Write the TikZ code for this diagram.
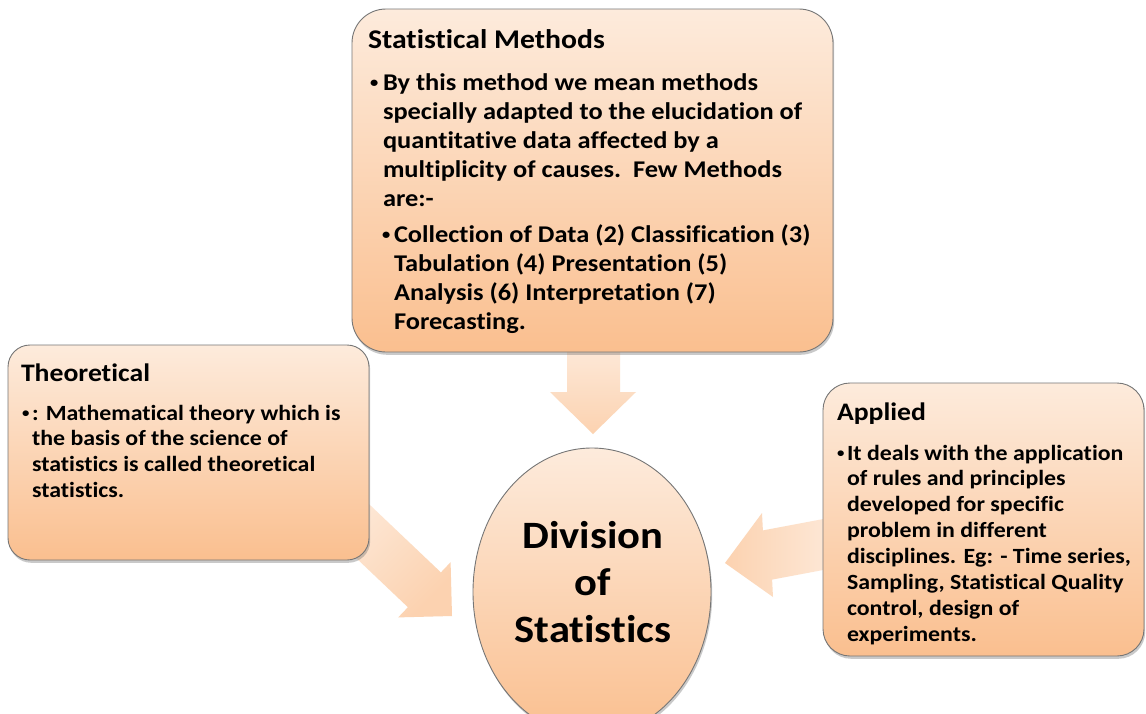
\documentclass[tikz,border=0pt]{standalone}
\usepackage{fontspec}
\setmainfont{Carlito}[FakeStretch=1.1, Ligatures=NoCommon]
\usetikzlibrary{shapes.geometric,shadows}
\definecolor{boxtop}{RGB}{253,235,220}
\definecolor{boxbot}{RGB}{250,191,143}
\definecolor{arrlight}{RGB}{253,236,222}
\definecolor{arrdark}{RGB}{252,210,176}
\definecolor{edge}{RGB}{118,118,118}
\newcommand\smtitle{\fontsize{27}{33}\selectfont\bfseries}
\newcommand\smbody{\fontsize{24}{29}\selectfont\bfseries}
\newcommand\smbul{\fontsize{15}{15}\selectfont\bfseries}
\newcommand\sidetitle{\fontsize{25.2}{30}\selectfont\bfseries}
\newcommand\sidebody{\fontsize{21.7}{26}\selectfont\bfseries}
\newcommand\sidebul{\fontsize{13.5}{14}\selectfont\bfseries}
\newcommand\divfont{\fontsize{38.7}{47}\selectfont\bfseries}
\tikzset{
  box/.style={draw=edge, line width=0.9pt, top color=boxtop, bottom color=boxbot,
    drop shadow={shadow xshift=1.2pt, shadow yshift=-2.8pt, opacity=0.35, fill=black!60},
    inner sep=0pt, outer sep=0pt},
  tx/.style={anchor=base west, inner sep=0pt, outer sep=0pt, text=black},
  ctx/.style={anchor=base, inner sep=0pt, outer sep=0pt, text=black},
  blockarrow/.style={draw=none}
}
\begin{document}
\begin{tikzpicture}[x=1pt,y=-1pt]
\fill[white] (0,0) rectangle (1146,713);
\clip (0,0) rectangle (1146,713);
% tips of the block arrows
\coordinate (dTip) at (593,434);
\coordinate (lTip) at (452,616);
\coordinate (rTip) at (725,563);
% down arrow (Statistical Methods -> Division)
\path[blockarrow, top color=arrlight, bottom color=arrdark]
  (567,335) -- (620,335) -- (620,392) -- (636,392) -- (dTip) -- (550,392) -- (567,392) -- cycle;
% left arrow (Theoretical -> Division)
\path[blockarrow, top color=arrlight, bottom color=arrdark, shading angle=45]
  (345.2,481.5) -- (440.9,572.4) -- (450.6,562.2) -- (lTip) -- (398.2,617.4) -- (407.9,607.2) -- (312.2,516.3) -- cycle;
% right arrow (Applied -> Division)
\path[blockarrow, top color=arrlight, bottom color=arrdark, shading angle=-90]
  (841.5,515.6) -- (762.9,530.4) -- (762,513) -- (rTip) -- (773,597) -- (772.1,579.6) -- (850.7,564.8) -- cycle;
% boxes
\node[box, rounded corners=34pt, minimum width=481pt, minimum height=343pt] (sm) at (592.5,180.5) {};
\node[box, rounded corners=22pt, minimum width=361pt, minimum height=215pt] (th) at (188.5,452.5) {};
\node[box, rounded corners=27pt, minimum width=321pt, minimum height=273pt] (ap) at (983.5,519.5) {};
\node[box, ellipse, minimum width=238pt, minimum height=288pt] (div) at (592,592) {};
% Statistical Methods text
\node[tx, font=\smtitle] (smt) at (368,48) {Statistical Methods};
\node[tx, font=\smbul] (smb1) at (370,90) {\raisebox{3pt}{•}};
\foreach \t [count=\i from 0] in {By this method we mean methods, specially adapted to the elucidation of, quantitative data affected by a, multiplicity of causes.\ \ Few Methods, are:-}
  \node[tx, font=\smbody] (sma\i) at (383,90+29*\i) {\t};
\node[tx, font=\smbul] (smb2) at (382,242) {\raisebox{3pt}{•}};
\foreach \t [count=\i from 0] in {Collection of Data (2) Classification (3), Tabulation (4) Presentation (5), Analysis (6) Interpretation (7), Forecasting.}
  \node[tx, font=\smbody] (smc\i) at (394,242+29*\i) {\t};
% Theoretical text
\node[tx, font=\sidetitle] (tht) at (21,381) {Theoretical};
\node[tx, font=\sidebul] (thb) at (22,420) {\raisebox{2.6pt}{•}};
\foreach \t [count=\i from 0] in {: Mathematical theory which is, the basis of the science of, statistics is called theoretical, statistics.}
  \node[tx, font=\sidebody] (tha\i) at (32,420+25.9*\i) {\t};
% Applied text
\node[tx, font=\sidetitle] (apt) at (837,420) {Applied};
\node[tx, font=\sidebul] (apb) at (837,460) {\raisebox{2.6pt}{•}};
\foreach \t [count=\i from 0] in {It deals with the application, of rules and principles, developed for specific, problem in different, {disciplines. Eg: - Time series,}, {Sampling, Statistical Quality}, {control, design of}, experiments.}
  \node[tx, font=\sidebody] (apa\i) at (847,460+25.9*\i) {\t};
% Division text
\node[ctx, font=\divfont] (d1) at (593,548) {Division};
\node[ctx, font=\divfont] (d2) at (593,595) {of};
\node[ctx, font=\divfont] (d3) at (593,642) {Statistics};
\end{tikzpicture}
\end{document}
